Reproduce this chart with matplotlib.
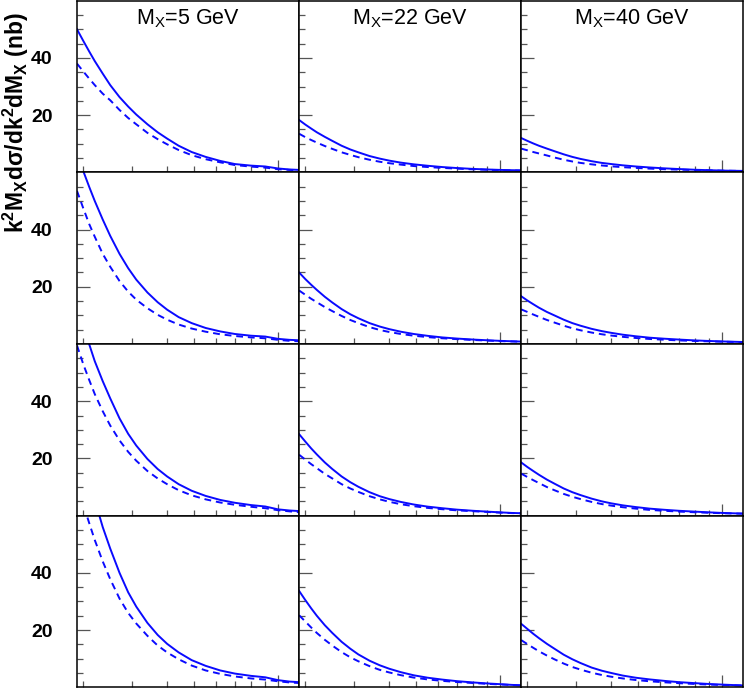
import numpy as np
import matplotlib
matplotlib.use("Agg")
from matplotlib import pyplot as plt
from matplotlib.ticker import FixedLocator, NullFormatter

plt.rcParams['font.family'] = ['Liberation Sans', 'DejaVu Sans']
plt.rcParams['mathtext.default'] = 'regular'

# k grid (GeV), shared by all panels
k = [1.9, 2.0, 2.1, 2.2, 2.35, 2.5, 2.7, 2.9, 3.1, 3.4, 3.7, 4.0, 4.4, 4.9,
     5.5, 6.2, 7.0, 8.0, 9.0, 10.0, 11.0, 11.9]

masses = ['5', '22', '40']

# solid curves, rows top->bottom, columns MX = 5, 22, 40 GeV
solid = [
    [[50, 46, 42.3, 38.9, 34.5, 30.5, 26.3, 23.0, 20.2, 16.8, 14.0, 11.8, 9.3, 7.1, 5.4, 4.0, 2.9, 2.35, 2.05, 1.35, 1.0, 0.85],
     [18.3, 16.7, 15.3, 14.0, 12.4, 11.0, 9.3, 8.0, 7.0, 5.7, 4.8, 4.1, 3.4, 2.8, 2.3, 1.85, 1.5, 1.2, 1.0, 0.85, 0.75, 0.7],
     [12.0, 11.0, 10.1, 9.3, 8.3, 7.4, 6.3, 5.4, 4.7, 3.9, 3.3, 2.9, 2.45, 2.05, 1.7, 1.4, 1.15, 0.9, 0.75, 0.62, 0.55, 0.5]],
    [[66, 60.5, 55, 50, 43.5, 37.8, 31.5, 26.5, 22.5, 18.0, 14.6, 12.0, 9.4, 7.3, 5.6, 4.4, 3.5, 2.9, 2.6, 1.8, 1.45, 1.3],
     [25, 22.7, 20.7, 18.9, 16.5, 14.5, 12.2, 10.4, 9.0, 7.3, 6.1, 5.2, 4.3, 3.5, 2.85, 2.3, 1.9, 1.55, 1.3, 1.1, 0.95, 0.85],
     [16.7, 15.2, 13.9, 12.7, 11.2, 10.0, 8.5, 7.3, 6.4, 5.3, 4.5, 3.9, 3.25, 2.7, 2.2, 1.85, 1.55, 1.25, 1.05, 0.9, 0.78, 0.7]],
    [[74, 67, 60, 54, 47, 41, 34, 28.6, 24.5, 19.8, 16.3, 13.7, 11.0, 8.7, 6.9, 5.5, 4.5, 3.7, 3.2, 2.2, 1.8, 1.6],
     [28.5, 25.9, 23.5, 21.4, 18.6, 16.3, 13.7, 11.7, 10.1, 8.2, 6.8, 5.8, 4.8, 3.9, 3.15, 2.6, 2.1, 1.7, 1.4, 1.15, 0.95, 0.85],
     [18.6, 17.0, 15.6, 14.3, 12.6, 11.2, 9.5, 8.2, 7.2, 5.95, 5.0, 4.3, 3.6, 3.0, 2.45, 2.05, 1.7, 1.4, 1.15, 0.95, 0.82, 0.72]],
    [[90, 81, 73, 65.5, 56, 48.5, 40, 33.2, 28.2, 22.5, 18.3, 15.2, 12.2, 9.5, 7.5, 5.9, 4.8, 4.0, 3.5, 2.5, 2.0, 1.8],
     [33.7, 30.5, 27.6, 25.0, 21.7, 19.0, 15.9, 13.5, 11.5, 9.3, 7.7, 6.5, 5.3, 4.2, 3.35, 2.7, 2.15, 1.7, 1.35, 1.1, 0.85, 0.7],
     [22.2, 20.4, 18.7, 17.2, 15.2, 13.5, 11.4, 9.8, 8.5, 6.9, 5.8, 5.0, 4.1, 3.35, 2.75, 2.25, 1.8, 1.45, 1.15, 0.95, 0.78, 0.65]],
]

# dashed curves, same layout
dashed = [
    [[38.0, 35.3, 32.8, 30.5, 27.5, 25.2, 21.8, 19.0, 16.8, 13.8, 11.6, 9.8, 7.8, 6.0, 4.6, 3.5, 2.55, 2.0, 1.65, 1.1, 0.85, 0.7],
     [13.5, 12.3, 11.3, 10.4, 9.2, 8.2, 7.0, 6.1, 5.3, 4.4, 3.7, 3.2, 2.7, 2.2, 1.85, 1.55, 1.3, 1.05, 0.9, 0.75, 0.65, 0.6],
     [8.3, 7.7, 7.1, 6.6, 5.9, 5.2, 4.4, 3.8, 3.3, 2.8, 2.4, 2.1, 1.8, 1.55, 1.3, 1.1, 0.95, 0.8, 0.68, 0.58, 0.52, 0.48]],
    [[53.5, 47.5, 42.0, 37.5, 31.5, 27.0, 22.0, 18.3, 15.5, 12.5, 10.2, 8.5, 6.8, 5.4, 4.3, 3.4, 2.8, 2.3, 2.0, 1.45, 1.1, 0.95],
     [18.7, 17.2, 15.8, 14.6, 12.9, 11.5, 9.8, 8.4, 7.3, 5.9, 4.9, 4.2, 3.5, 2.9, 2.4, 2.0, 1.7, 1.4, 1.2, 1.0, 0.9, 0.8],
     [12.1, 11.2, 10.3, 9.5, 8.4, 7.5, 6.4, 5.5, 4.8, 4.0, 3.4, 2.95, 2.5, 2.1, 1.75, 1.5, 1.25, 1.05, 0.92, 0.8, 0.72, 0.68]],
    [[59.5, 53, 47.5, 42.5, 36.5, 31.5, 26.3, 22.3, 19.2, 15.6, 13.0, 11.0, 8.9, 7.1, 5.7, 4.6, 3.8, 3.1, 2.6, 1.9, 1.5, 1.2],
     [21.3, 19.6, 18.0, 16.6, 14.6, 13.0, 11.0, 9.5, 8.3, 6.8, 5.7, 4.85, 4.0, 3.3, 2.7, 2.25, 1.85, 1.55, 1.3, 1.05, 0.9, 0.8],
     [14.7, 13.5, 12.4, 11.4, 10.0, 8.9, 7.6, 6.6, 5.8, 4.8, 4.05, 3.5, 2.95, 2.45, 2.0, 1.7, 1.42, 1.18, 1.0, 0.85, 0.75, 0.7]],
    [[71, 64, 57.5, 51.5, 44, 37.8, 31.0, 26.0, 22.3, 18.0, 14.6, 12.2, 9.8, 7.6, 5.9, 4.7, 3.8, 3.1, 2.7, 2.1, 1.7, 1.5],
     [25.2, 23.0, 20.9, 19.0, 16.6, 14.6, 12.3, 10.5, 9.1, 7.4, 6.1, 5.2, 4.25, 3.4, 2.75, 2.25, 1.85, 1.5, 1.2, 1.0, 0.8, 0.65],
     [16.5, 15.1, 13.8, 12.6, 11.1, 9.8, 8.3, 7.1, 6.2, 5.1, 4.3, 3.7, 3.1, 2.55, 2.1, 1.75, 1.45, 1.15, 0.95, 0.8, 0.7, 0.6]],
]

fig, axes = plt.subplots(4, 3, figsize=(7.44, 6.88), dpi=100, sharex=True, sharey=True)
fig.subplots_adjust(left=0.1035, right=0.999, bottom=0.001, top=0.999, wspace=0, hspace=0)

blue = '#0a0aff'
for i in range(4):
    for j in range(3):
        ax = axes[i, j]
        ax.plot(k, solid[i][j], color=blue, lw=1.4)
        ax.plot(k, dashed[i][j], color=blue, lw=1.4, ls=(0, (3.5, 2.5)))
        ax.set_xscale('log')
        ax.set_xlim(1.9, 11.9)
        ax.set_ylim(0, 60)
        ax.xaxis.set_major_locator(FixedLocator([10]))
        ax.xaxis.set_minor_locator(FixedLocator([2, 3, 4, 5, 6, 7, 8, 9]))
        ax.xaxis.set_major_formatter(NullFormatter())
        ax.xaxis.set_minor_formatter(NullFormatter())
        ax.yaxis.set_major_locator(FixedLocator([20, 40]))
        ax.yaxis.set_minor_locator(FixedLocator([5, 10, 15, 25, 30, 35, 45, 50, 55]))
        ax.tick_params(axis='both', which='major', direction='in', length=9,
                       width=0.9, color='#555555', top=False, right=False)
        ax.tick_params(axis='both', which='minor', direction='in', length=4.5,
                       width=0.9, color='#555555', top=False, right=False)
        ax.tick_params(axis='y', which='major', pad=17.5, labelsize=14)
        for s in ax.spines.values():
            s.set_linewidth(1.1)
            s.set_color('black')
        if j == 0:
            for lab in ax.get_yticklabels():
                lab.set_fontweight('bold')
        if i == 0:
            ax.text(0.5, 0.895, 'M$_{X}$=' + masses[j] + ' GeV', transform=ax.transAxes,
                    ha='center', va='center', fontsize=15.5)

fig.text(0.021, 0.822, 'k$^{2}$M$_{X}$dσ/dk$^{2}$dM$_{X}$ (nb)', rotation=90,
         ha='center', va='center', fontsize=16.5, fontweight='bold')

fig.savefig('out.png', dpi=100)
